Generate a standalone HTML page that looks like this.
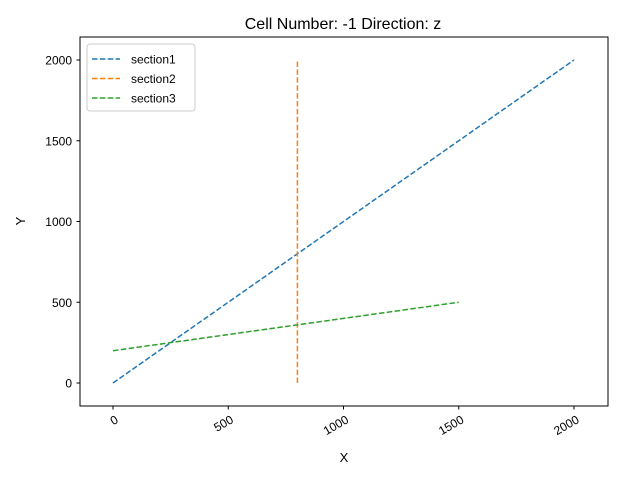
<!DOCTYPE html>
<html><head><meta charset="utf-8"><style>
body{margin:0;background:#fff;}
text{font-family:"Liberation Sans","DejaVu Sans",sans-serif;}
</style></head><body>
<svg id="chart" width="640" height="480" xmlns="http://www.w3.org/2000/svg">
<rect width="640" height="480" fill="#fff"/>
<text x="343" y="29" text-anchor="middle" font-size="16">Cell Number: -1 Direction: z</text>
<g id="plot"></g>
<rect x="80" y="37" width="528" height="369" fill="none" stroke="#000" stroke-width="1"/>
<text x="344" y="462" text-anchor="middle" font-size="13">X</text>
<text transform="translate(25,221) rotate(-90)" text-anchor="middle" font-size="13">Y</text>
<g>
<rect x="87" y="44" width="108" height="67" rx="3" fill="#fff" stroke="#ccc"/>
</g>
</svg>
<script>
const seriesNames=["section1","section2","section3"];
const seriesX=[[0,2000],[800,800],[0,1500]];
const seriesY=[[0,2000],[0,2000],[200,500]];
const colors=["#1f77b4","#ff7f0e","#2ca02c"];
const xTicks=[0,500,1000,1500,2000];
const yTicks=[0,500,1000,1500,2000];
const NS="http://www.w3.org/2000/svg";
const sx=v=>113+v*(461/2000);
const sy=v=>383-v*(323/2000);
const svg=document.getElementById('chart');
const plot=document.getElementById('plot');
function mk(t,a){const e=document.createElementNS(NS,t);for(const k in a)e.setAttribute(k,a[k]);return e;}
xTicks.forEach(t=>{
  const l=mk('line',{x1:sx(t),x2:sx(t),y1:406,y2:409.5,stroke:'#000'});
  
  
  svg.appendChild(l);
  const tx=mk('text',{'font-size':'12','text-anchor':'end',transform:`translate(${sx(t)+6},${422}) rotate(-30)`});
  
  
  tx.textContent=t;svg.appendChild(tx);
});
yTicks.forEach(t=>{
  const l=mk('line',{x1:76.5,x2:80,y1:sy(t),y2:sy(t),stroke:'#000'});
  
  
  svg.appendChild(l);
  const tx=mk('text',{'font-size':'12','text-anchor':'end',x:72,y:sy(t)+4.5});
  
  
  tx.textContent=t;svg.appendChild(tx);
});
seriesNames.forEach((n,i)=>{
  const pts=seriesX[i].map((x,j)=>sx(x)+','+sy(seriesY[i][j])).join(' ');
  const p=mk('polyline',{points:pts,fill:'none',stroke:colors[i],'stroke-width':1.5,'stroke-dasharray':'5.5,2.4'});
  
  
  plot.appendChild(p);
  const y=59+i*19.5;
  const ll=mk('line',{x1:92,x2:120,y1:y,y2:y,stroke:colors[i],'stroke-width':1.5,'stroke-dasharray':'5.5,2.4'});
  
  
  svg.appendChild(ll);
  const lt=mk('text',{x:131,y:y+4.5,'font-size':'12'});
  
  
  lt.textContent=n;svg.appendChild(lt);
});
</script>
</body></html>
